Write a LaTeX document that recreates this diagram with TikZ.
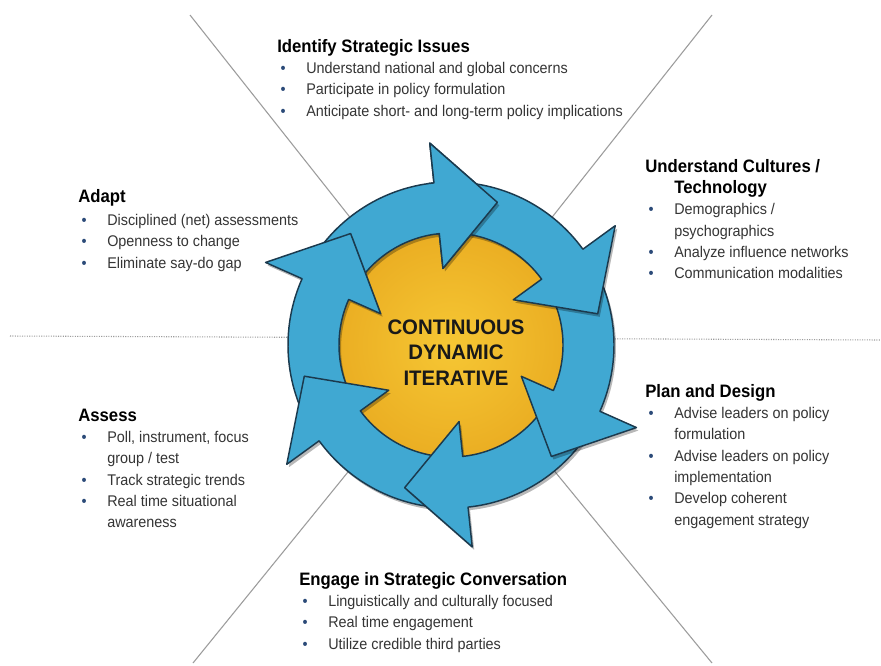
\documentclass[tikz,border=0pt]{standalone}
\usepackage{fontspec}
\setmainfont{Liberation Sans}
\newfontfamily\lblfont[FakeStretch=0.93]{Liberation Sans}
\newfontfamily\corefont[FakeStretch=0.97]{Liberation Sans}
\definecolor{ringblue}{HTML}{40A8D2}
\definecolor{ringedge}{HTML}{1B3A4E}
\definecolor{ylwin}{HTML}{F6C734}
\definecolor{ylwout}{HTML}{EAAD22}
\definecolor{ylwedge}{HTML}{A8761A}
\definecolor{txt}{HTML}{353535}
\definecolor{bul}{HTML}{2B4A78}
\definecolor{guide}{HTML}{9C9C9C}
\newcommand{\itm}[1]{\makebox[21.75pt][l]{\hspace{2.5pt}\textcolor{bul}{\textbullet}}#1}
\newcommand{\cnt}[1]{\hspace{21.75pt}#1}
\newcommand{\ttl}[1]{{\fontsize{13.5}{16}\selectfont\bfseries\color{black}#1}}
\def\arrowpath#1{({#1+56}:163) arc[start angle={#1+56},end angle={#1},radius=163] -- ({#1}:203) -- ({#1-24}:150) -- ({#1}:77) -- ({#1}:112) arc[start angle={#1},end angle={#1+56},radius=112] -- cycle}
\tikzset{
  blk/.style={anchor=base west, inner sep=0pt, text=txt, font=\lblfont\fontsize{11.6}{16}\selectfont},
  guideline/.style={draw=guide, line width=0.8pt},
  dotline/.style={draw=guide, line width=0.8pt, densely dotted},
  arrowfill/.style={fill=ringblue, draw=ringedge, line width=1.1pt, line join=round},
  arrowshadow/.style={fill=black, opacity=0.28},
}
\begin{document}
\begin{tikzpicture}[x=0.75pt,y=-0.75pt]
\useasboundingbox (0,0) rectangle (881,665);
\fill[white] (0,0) rectangle (881,665);
% guide lines
\coordinate (c) at (451,345);
\coordinate (tl) at (190,15);
\coordinate (tr) at (712,15);
\coordinate (bl) at (193,663);
\coordinate (br) at (712,663);
\coordinate (hl) at (10,336);
\coordinate (hr) at (881,340);
\draw[guideline] (c) -- (tl);
\draw[guideline] (c) -- (tr);
\draw[guideline] (c) -- (bl);
\draw[guideline] (c) -- (br);
\draw[dotline] (hl) -- (hr);
% ring
\begin{scope}[shift={(451,345)}, y={(0,0.75pt)}]
  \shade[inner color=ylwin, outer color=ylwout] (0,0) circle[radius=118];
  \draw[ylwedge, line width=0.8pt] (0,0) circle[radius=118];
  \foreach \h in {96,156,-144,-84,-24,36}{
    \fill[arrowshadow, shift={(2,-3)}] \arrowpath{\h};
    \path[arrowfill] \arrowpath{\h};
  }
  \begin{scope}
    \clip \arrowpath{36};
    \fill[arrowshadow, shift={(2,-3)}] \arrowpath{96};
  \end{scope}
  \begin{scope}
    \clip (0,0) -- (98:240) arc[start angle=98,end angle=60,radius=240] -- cycle;
    \path[arrowfill] \arrowpath{96};
  \end{scope}
\end{scope}
\node[anchor=base, inner sep=0pt, font=\corefont\fontsize{15.75}{19}\selectfont\bfseries, text=black!90] (core) at (456,334.5)
  {\begin{tabular}[t]{@{}c@{}}CONTINUOUS\\DYNAMIC\\ITERATIVE\end{tabular}};
% text blocks
\node[blk] (identify) at (277,52) {\begin{tabular}[t]{@{}l@{}}
\ttl{Identify Strategic Issues}\\
\itm{Understand national and global concerns}\\
\itm{Participate in policy formulation}\\
\itm{Anticipate short- and long-term policy implications}
\end{tabular}};
\node[blk] (adapt) at (78,202) {\begin{tabular}[t]{@{}l@{}}
\ttl{Adapt}\\[1.5pt]
\itm{Disciplined (net) assessments}\\
\itm{Openness to change}\\
\itm{Eliminate say-do gap}
\end{tabular}};
\node[blk] (understand) at (645,172) {\begin{tabular}[t]{@{}l@{}}
\ttl{Understand Cultures /}\\
\cnt{\ttl{Technology}}\\
\itm{Demographics /}\\
\cnt{psychographics}\\
\itm{Analyze influence networks}\\
\itm{Communication modalities}
\end{tabular}};
\node[blk] (plan) at (645,397) {\begin{tabular}[t]{@{}l@{}}
\ttl{Plan and Design}\\
\itm{Advise leaders on policy}\\
\cnt{formulation}\\
\itm{Advise leaders on policy}\\
\cnt{implementation}\\
\itm{Develop coherent}\\
\cnt{engagement strategy}
\end{tabular}};
\node[blk] (assess) at (78,421) {\begin{tabular}[t]{@{}l@{}}
\ttl{Assess}\\
\itm{Poll, instrument, focus}\\
\cnt{group / test}\\
\itm{Track strategic trends}\\
\itm{Real time situational}\\
\cnt{awareness}
\end{tabular}};
\node[blk] (engage) at (299,585) {\begin{tabular}[t]{@{}l@{}}
\ttl{Engage in Strategic Conversation}\\
\itm{Linguistically and culturally focused}\\
\itm{Real time engagement}\\
\itm{Utilize credible third parties}
\end{tabular}};
\end{tikzpicture}
\end{document}
